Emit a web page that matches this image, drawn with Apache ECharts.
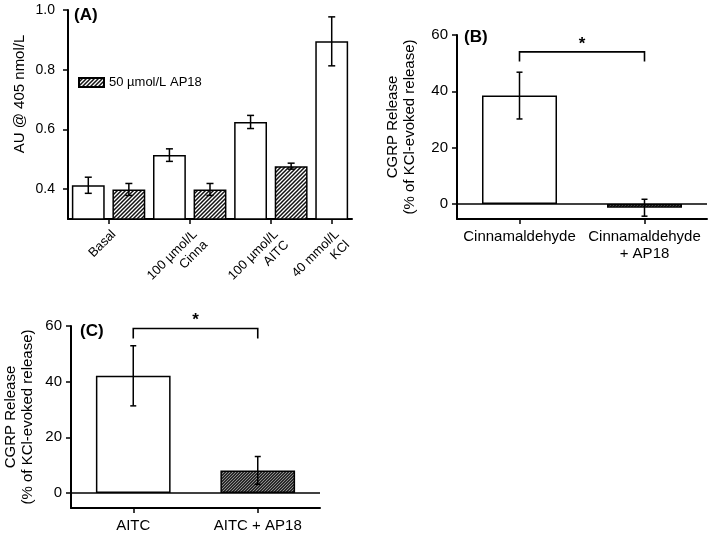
<!DOCTYPE html>
<html>
<head>
<meta charset="utf-8">
<script src="https://cdn.jsdelivr.net/npm/echarts@6/dist/echarts.min.js"></script>
<style>html,body{margin:0;padding:0;background:#fff}#c{width:709px;height:534px}</style>
</head>
<body>
<div id="c"></div>
<script>
// ---------- Data ----------
// Panel A
const groupLabelsA = ['Basal', '100 µmol/L\nCinna', '100 µmol/L\nAITC', '40 mmol/L\nKCl'];
const controlA = [0.413, 0.514, 0.625, 0.895];
const controlErrA = [0.027, 0.021, 0.022, 0.082];
const ap18A = [0.399, 0.399, 0.477];
const ap18ErrA = [0.020, 0.020, 0.010];
const yTicksA = [0.4, 0.6, 0.8, 1.0];
const legendA = '50 µmol/L AP18';
// Panel B
const catsB = ['Cinnamaldehyde', 'Cinnamaldehyde\n+ AP18'];
const valuesB = [38.5, -1.3];
const errB = [8.3, 3.0];
// Panel C
const catsC = ['AITC', 'AITC + AP18'];
const valuesC = [42.1, 8.1];
const errC = [10.8, 5.0];
const yTicksBC = [0, 20, 40, 60];

// ---------- Patterns ----------
function hatch(bg, fg, size, lw) {
  const c = document.createElement('canvas');
  c.width = size; c.height = size;
  const ctx = c.getContext('2d');
  ctx.fillStyle = bg; ctx.fillRect(0, 0, size, size);
  ctx.strokeStyle = fg; ctx.lineWidth = lw;
  ctx.beginPath();
  ctx.moveTo(-1, size + 1); ctx.lineTo(size + 1, -1);
  ctx.moveTo(-1, 1); ctx.lineTo(1, -1);
  ctx.moveTo(size - 1, size + 1); ctx.lineTo(size + 1, size - 1);
  ctx.stroke();
  return { image: c, repeat: 'repeat' };
}
const lightHatch = hatch('#ffffff', '#111111', 4, 1.5);
const darkHatch = hatch('#2a2a2a', '#9a9a9a', 3, 0.9);

const FONT = '"Liberation Sans", Arial, Helvetica, sans-serif';

// ---------- Build panel A slots ----------
const slotsA = [];
const labelAxisA = [];
groupLabelsA.forEach((lab, i) => {
  const start = slotsA.length;
  slotsA.push({ kind: 'ctrl', v: controlA[i], e: controlErrA[i] });
  if (i < ap18A.length) slotsA.push({ kind: 'ap', v: ap18A[i], e: ap18ErrA[i] });
  const idx = (slotsA.length === start + 2) ? start * 2 + 2 : start * 2 + 1;
  labelAxisA[idx] = lab;
});
const labelAxisData = [];
for (let k = 0; k <= slotsA.length * 2; k++) labelAxisData.push(labelAxisA[k] || '');
const slotCats = slotsA.map((s, i) => 'S' + i);

function errRender(cap) {
  return function (params, api) {
    const x = api.value(0), y = api.value(1), e = api.value(2);
    const t = api.coord([x, y + e]);
    const b = api.coord([x, y - e]);
    const st = { stroke: '#000', lineWidth: 1.5, fill: null };
    return {
      type: 'group',
      children: [
        { type: 'line', shape: { x1: t[0], y1: t[1], x2: b[0], y2: b[1] }, style: st },
        { type: 'line', shape: { x1: t[0] - cap, y1: t[1], x2: t[0] + cap, y2: t[1] }, style: st },
        { type: 'line', shape: { x1: b[0] - cap, y1: b[1], x2: b[0] + cap, y2: b[1] }, style: st }
      ]
    };
  };
}
function bracketRender(params, api) {
  const yb = api.value(2), yt = api.value(3);
  const p0 = api.coord([api.value(0), yb]);
  const p1 = api.coord([api.value(1), yb]);
  const q0 = api.coord([api.value(0), yt]);
  return {
    type: 'group',
    children: [
      { type: 'polyline', shape: { points: [[p0[0], q0[1]], [p0[0], p0[1]], [p1[0], p1[1]], [p1[0], q0[1]]] },
        style: { stroke: '#000', lineWidth: 1.6, fill: null } },
      { type: 'text', x: (p0[0] + p1[0]) / 2, y: p0[1] - 8,
        style: { text: '*', font: 'bold 17px ' + FONT, fill: '#000', align: 'center', verticalAlign: 'middle' } }
    ]
  };
}

const axisLineStyle = { show: true, lineStyle: { color: '#000', width: 2 } };
const tickStyle = { lineStyle: { color: '#000', width: 1.5 }, length: 5 };

function yAxisBC(gridIndex, min) {
  return {
    type: 'value', gridIndex, min, max: 60,
    splitLine: { show: false },
    axisLine: axisLineStyle,
    axisTick: Object.assign({ show: true, customValues: yTicksBC }, tickStyle),
    axisLabel: { customValues: yTicksBC, color: '#000', fontSize: 15, fontFamily: FONT, margin: 9 }
  };
}
function xAxisBC(gridIndex, cats) {
  return {
    type: 'category', gridIndex, data: cats,
    axisLine: Object.assign({ onZero: false }, axisLineStyle),
    axisTick: Object.assign({ show: true, alignWithLabel: true, interval: 0 }, tickStyle),
    axisLabel: { color: '#000', fontSize: 15, fontFamily: FONT, margin: 9, lineHeight: 17, interval: 0 }
  };
}
function zeroLine() {
  return {
    silent: true, symbol: ['none', 'none'], label: { show: false },
    lineStyle: { color: '#000', width: 1.6, type: 'solid' },
    data: [{ yAxis: 0 }], animation: false
  };
}

const option = {
  animation: false,
  textStyle: { fontFamily: FONT, color: '#000' },
  grid: [
    { left: 68, top: 10, width: 284, height: 209 },
    { left: 457, top: 35, width: 250, height: 184 },
    { left: 71, top: 326, width: 249, height: 183 }
  ],
  legend: {
    data: [legendA], left: 78, top: 76, padding: 0,
    itemWidth: 25, itemHeight: 9, itemGap: 5, icon: 'rect',
    textStyle: { fontSize: 13, color: '#000', fontFamily: FONT }
  },
  xAxis: [
    { type: 'category', gridIndex: 0, data: slotCats, show: false },
    {
      type: 'category', gridIndex: 0, data: labelAxisData, boundaryGap: false, position: 'bottom',
      axisLine: axisLineStyle,
      axisTick: Object.assign({ show: true, interval: (i, v) => v !== '' }, tickStyle),
      axisLabel: { interval: (i, v) => v !== '', rotate: 45, verticalAlign: 'top', color: '#000', fontSize: 13, fontFamily: FONT, margin: 8, lineHeight: 15 }
    },
    xAxisBC(1, catsB),
    xAxisBC(2, catsC)
  ],
  yAxis: [
    {
      type: 'value', gridIndex: 0, min: 0.3, max: 1.0,
      splitLine: { show: false },
      axisLine: axisLineStyle,
      axisTick: Object.assign({ show: true, customValues: yTicksA }, tickStyle),
      axisLabel: { customValues: yTicksA, formatter: v => v.toFixed(1), color: '#000', fontSize: 14, fontFamily: FONT, margin: 13 }
    },
    yAxisBC(1, -5.3),
    yAxisBC(2, -5.4)
  ],
  series: [
    {
      name: 'Control', type: 'bar', xAxisIndex: 0, yAxisIndex: 0, barWidth: '81%', barGap: '-100%',
      data: slotsA.map(s => s.kind === 'ctrl' ? s.v : '-'),
      itemStyle: { color: '#fff', borderColor: '#000', borderWidth: 1.5 }
    },
    {
      name: legendA, type: 'bar', xAxisIndex: 0, yAxisIndex: 0, barWidth: '81%', barGap: '-100%',
      data: slotsA.map(s => s.kind === 'ap' ? s.v : '-'),
      itemStyle: { color: lightHatch, borderColor: '#000', borderWidth: 1.5 }
    },
    {
      type: 'custom', xAxisIndex: 0, yAxisIndex: 0, z: 5,
      data: slotsA.map((s, i) => [i, s.v, s.e]),
      renderItem: errRender(3.5)
    },
    {
      type: 'bar', xAxisIndex: 2, yAxisIndex: 1, barWidth: '60%',
      data: valuesB.map((v, i) => ({ value: v, itemStyle: { color: i === 0 ? '#fff' : darkHatch } })),
      itemStyle: { borderColor: '#000', borderWidth: 1.5 },
      markLine: zeroLine()
    },
    {
      type: 'custom', xAxisIndex: 2, yAxisIndex: 1, z: 5,
      data: valuesB.map((v, i) => [i, v, errB[i]]),
      renderItem: errRender(3)
    },
    {
      type: 'custom', xAxisIndex: 2, yAxisIndex: 1, z: 5,
      data: [[0, 1, 54, 50.6]],
      renderItem: bracketRender
    },
    {
      type: 'bar', xAxisIndex: 3, yAxisIndex: 2, barWidth: '60%',
      data: valuesC.map((v, i) => ({ value: v, itemStyle: { color: i === 0 ? '#fff' : darkHatch } })),
      itemStyle: { borderColor: '#000', borderWidth: 1.5 },
      markLine: zeroLine()
    },
    {
      type: 'custom', xAxisIndex: 3, yAxisIndex: 2, z: 5,
      data: valuesC.map((v, i) => [i, v, errC[i]]),
      renderItem: errRender(3)
    },
    {
      type: 'custom', xAxisIndex: 3, yAxisIndex: 2, z: 5,
      data: [[0, 1, 59.1, 55.5]],
      renderItem: bracketRender
    }
  ],
  graphic: [
    { type: 'text', x: 74, y: 15, style: { text: '(A)', font: 'bold 17px ' + FONT, fill: '#000', verticalAlign: 'middle' } },
    { type: 'text', x: 464, y: 37, style: { text: '(B)', font: 'bold 17px ' + FONT, fill: '#000', verticalAlign: 'middle' } },
    { type: 'text', x: 80, y: 331, style: { text: '(C)', font: 'bold 17px ' + FONT, fill: '#000', verticalAlign: 'middle' } },
    { type: 'text', x: 20, y: 94, rotation: Math.PI / 2,
      style: { text: 'AU @ 405 nmol/L', font: '15px ' + FONT, fill: '#000', align: 'center', verticalAlign: 'middle' } },
    { type: 'text', x: 401, y: 127, rotation: Math.PI / 2,
      style: { text: 'CGRP Release\n(% of KCl-evoked release)', font: '15px ' + FONT, lineHeight: 17, fill: '#000', align: 'center', verticalAlign: 'middle' } },
    { type: 'text', x: 19, y: 417, rotation: Math.PI / 2,
      style: { text: 'CGRP Release\n(% of KCl-evoked release)', font: '15px ' + FONT, lineHeight: 17, fill: '#000', align: 'center', verticalAlign: 'middle' } }
  ]
};

const chart = echarts.init(document.getElementById('c'), null, { renderer: 'canvas' });
chart.setOption(option);
</script>
</body>
</html>
